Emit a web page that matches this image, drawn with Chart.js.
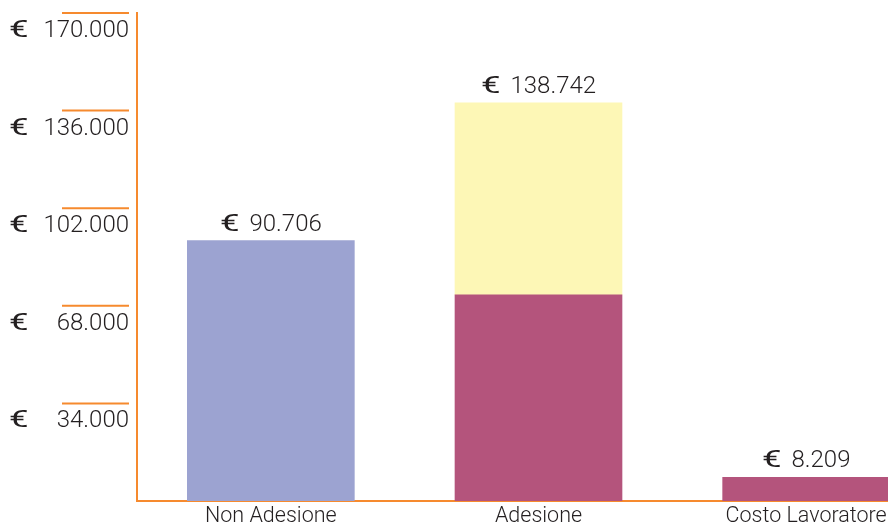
<!DOCTYPE html>
<html>
<head>
<meta charset="utf-8">
<script src="https://cdn.jsdelivr.net/npm/chart.js@4"></script>
<style>
  html, body { margin: 0; padding: 0; background: #fff; overflow: hidden; }
  #wrap { width: 888px; height: 527px; overflow: hidden; }
</style>
</head>
<body>
<div id="wrap"><canvas id="chart" width="940" height="527"></canvas></div>
<script>
// ====== Data ======
const categories  = ["Non Adesione", "Adesione", "Costo Lavoratore"];
const baseValues  = [90706, 71800, 8209];   // lower part of each bar
const extraValues = [null, 66942, null];    // yellow part on top of "Adesione"
const yTicks      = [34000, 68000, 102000, 136000, 170000];

const ORANGE = "#f68a2e";
const TEXT   = "#231f20";
const FONT   = "Roboto, 'Liberation Sans', sans-serif";

// 90706 -> "90.706"
function fmt(v) {
  return String(Math.round(v)).replace(/\B(?=(\d{3})+(?!\d))/g, ".");
}

// wide euro sign like the original
function drawEuro(ctx, x, y) {
  ctx.save();
  ctx.font = "400 24px " + FONT;
  ctx.textAlign = "left";
  ctx.translate(x, y);
  ctx.scale(1.45, 1);
  ctx.fillText("€", 0, 0);
  ctx.restore();
}
function euroWidth(ctx) {
  ctx.save();
  ctx.font = "400 24px " + FONT;
  const w = ctx.measureText("€").width * 1.45;
  ctx.restore();
  return w;
}

// Y axis labels + detached orange tick lines
const yLabelsPlugin = {
  id: "yLabels",
  afterDraw(chart) {
    const ctx = chart.ctx;
    const y = chart.scales.y;
    ctx.save();
    ctx.strokeStyle = ORANGE;
    ctx.lineWidth = 2;
    ctx.fillStyle = TEXT;
    ctx.textBaseline = "alphabetic";
    yTicks.forEach(v => {
      const py = y.getPixelForValue(v);
      ctx.beginPath();
      ctx.moveTo(62, py);
      ctx.lineTo(129, py);
      ctx.stroke();
      drawEuro(ctx, 9, py + 24);
      ctx.font = "300 24px " + FONT;
      ctx.textAlign = "right";
      ctx.fillText(fmt(v), 129, py + 24);
    });
    ctx.restore();
  }
};

// Totals above each bar
const barTotalsPlugin = {
  id: "barTotals",
  afterDatasetsDraw(chart) {
    const ctx = chart.ctx;
    ctx.save();
    ctx.fillStyle = TEXT;
    ctx.textBaseline = "alphabetic";
    categories.forEach((c, i) => {
      let top = null;
      let total = 0;
      chart.data.datasets.forEach((ds, di) => {
        const v = ds.data[i];
        if (v == null) return;
        total += v;
        top = chart.getDatasetMeta(di).data[i];
      });
      if (!top) return;
      const txt = fmt(total);
      const ew = euroWidth(ctx);
      const gap = 10;
      ctx.font = "300 24px " + FONT;
      const nw = ctx.measureText(txt).width;
      const x0 = top.x - (ew + gap + nw) / 2;
      const by = top.y - 10;
      drawEuro(ctx, x0, by);
      ctx.font = "300 24px " + FONT;
      ctx.textAlign = "left";
      ctx.fillText(txt, x0 + ew + gap, by);
    });
    ctx.restore();
  }
};

new Chart(document.getElementById("chart"), {
  type: "bar",
  data: {
    labels: categories,
    datasets: [
      {
        label: "base",
        data: baseValues,
        backgroundColor: ["#9ca3d1", "#b4547c", "#b4547c"],
        barThickness: 167
      },
      {
        label: "extra",
        data: extraValues,
        backgroundColor: "#fdf7b6",
        barThickness: 167
      }
    ]
  },
  options: {
    responsive: false,
    animation: false,
    layout: { padding: { top: 13, right: 0, left: 0, bottom: 0 } },
    plugins: {
      legend: { display: false },
      tooltip: { enabled: false }
    },
    scales: {
      x: {
        stacked: true,
        grid: { display: false, drawTicks: false },
        border: { display: true, color: ORANGE, width: 2 },
        ticks: {
          color: TEXT,
          padding: 3,
          maxRotation: 0,
          autoSkip: false,
          font: { family: FONT, size: 21.5, weight: "300" }
        },
        afterFit(scale) { scale.height = 26; }
      },
      y: {
        stacked: true,
        min: 0,
        max: 170000,
        grid: { display: false, drawTicks: false },
        border: { display: true, color: ORANGE, width: 2 },
        ticks: { display: false, stepSize: 34000 },
        afterFit(scale) { scale.width = 137; }
      }
    }
  },
  plugins: [yLabelsPlugin, barTotalsPlugin]
});
</script>
</body>
</html>
